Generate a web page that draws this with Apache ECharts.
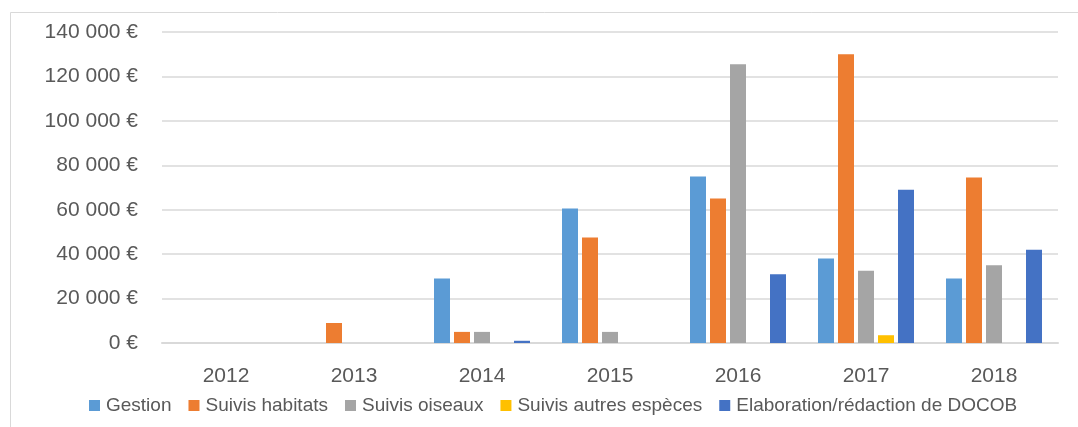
<!DOCTYPE html>
<html>
<head>
<meta charset="utf-8">
<script src="https://cdn.jsdelivr.net/npm/echarts@6/dist/echarts.min.js"></script>
<style>
  html, body { margin: 0; padding: 0; background: #fff; }
  #chart { width: 1078px; height: 427px; }
</style>
</head>
<body>
<div id="chart"></div>
<script>
// données
const years = ['2012', '2013', '2014', '2015', '2016', '2017', '2018']
const gestion = [0, 0, 29000, 60500, 75000, 38000, 29000]
const suivisHabitats = [0, 9000, 5000, 47500, 65000, 130000, 74500]
const suivisOiseaux = [0, 0, 5000, 5000, 125500, 32500, 35000]
const suivisAutres = [0, 0, 0, 0, 0, 3500, 0]
const docob = [0, 0, 1000, 0, 31000, 69000, 42000]
const yTicks = [0, 20000, 40000, 60000, 80000, 100000, 120000, 140000]

const font = 'Liberation Sans, Arial, sans-serif'
const labelColor = '#595959'

const fmtEuro = (v) => String(v).replace(/\B(?=(\d{3})+(?!\d))/g, ' ') + ' €'

const chart = echarts.init(document.getElementById('chart'))

const mkSeries = (name, data, color) => ({
  name: name,
  type: 'bar',
  data: data,
  barGap: '25%',
  barCategoryGap: '25%',
  itemStyle: { color: color }
})

const option = {
  animation: false,
  backgroundColor: '#fff',
  textStyle: { fontFamily: font },
  // cadre
  graphic: [{
    type: 'rect',
    left: 8, top: 10,
    shape: { width: 1100, height: 450 },
    style: { fill: 'none', stroke: '#d9d9d9', lineWidth: 1 },
    silent: true
  }],
  grid: { left: 162, right: 20, top: 32, bottom: 84 },
  legend: {
    left: 84,
    top: 391,
    itemWidth: 11,
    itemHeight: 11,
    itemGap: 17,
    icon: 'rect',
    textStyle: { color: labelColor, fontSize: 19, fontFamily: font, padding: [0, 0, 0, 1] },
    data: ['Gestion', 'Suivis habitats', 'Suivis oiseaux', 'Suivis autres espèces', 'Elaboration/rédaction de DOCOB']
  },
  xAxis: {
    type: 'category',
    data: years,
    axisLine: { lineStyle: { color: '#d9d9d9', width: 2 } },
    axisTick: { show: false },
    axisLabel: { color: labelColor, fontSize: 21, fontFamily: font, margin: 23 }
  },
  yAxis: {
    type: 'value',
    min: yTicks[0],
    max: yTicks[yTicks.length - 1],
    interval: yTicks[1] - yTicks[0],
    axisLine: { show: false },
    axisTick: { show: false },
    splitLine: { lineStyle: { color: '#d9d9d9', width: 1.5 } },
    axisLabel: { color: labelColor, fontSize: 21, fontFamily: font, margin: 24, formatter: fmtEuro }
  },
  series: [
    mkSeries('Gestion', gestion, '#5b9bd5'),
    mkSeries('Suivis habitats', suivisHabitats, '#ed7d31'),
    mkSeries('Suivis oiseaux', suivisOiseaux, '#a5a5a5'),
    mkSeries('Suivis autres espèces', suivisAutres, '#ffc000'),
    mkSeries('Elaboration/rédaction de DOCOB', docob, '#4472c4')
  ]
}

option && chart.setOption(option)
</script>
</body>
</html>
